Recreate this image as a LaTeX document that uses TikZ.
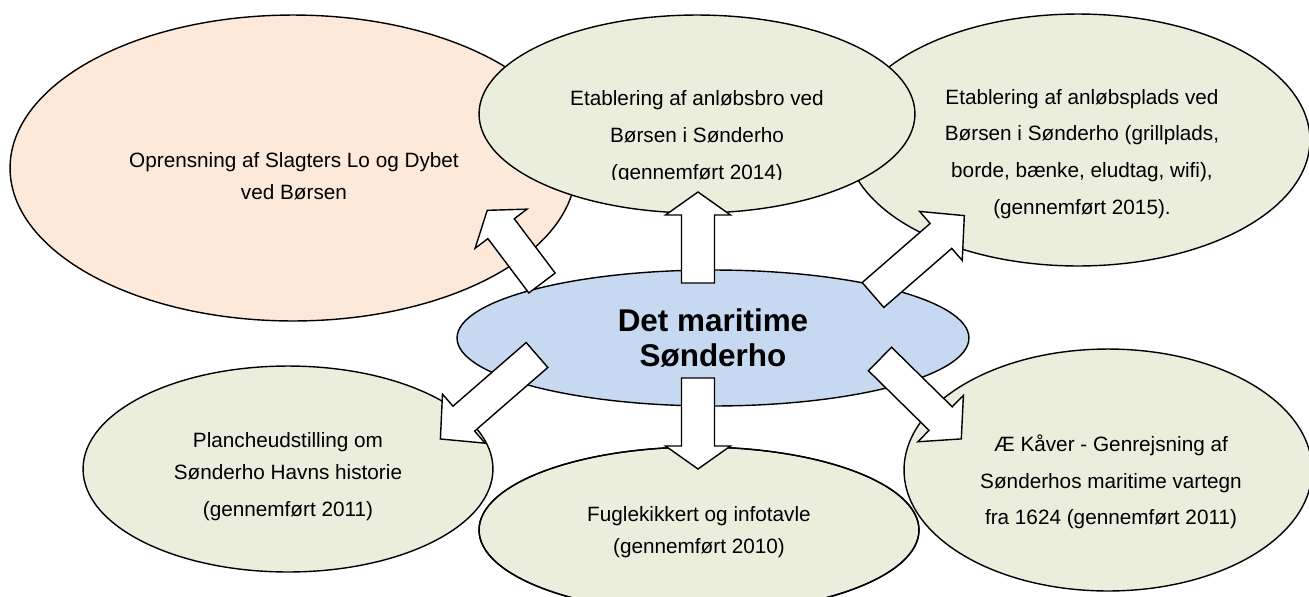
\documentclass[tikz,border=0pt]{standalone}
\usepackage{fontspec}
\setmainfont{Liberation Sans}
\usetikzlibrary{shapes.geometric}

\definecolor{peachfill}{HTML}{FDE9D9}
\definecolor{sagefill}{HTML}{EBEEDD}
\definecolor{skyfill}{HTML}{C6D9F1}

\tikzset{
  blob/.style={ellipse,draw,inner sep=0pt,fill=sagefill},
  bodytext/.style={align=center,font=\fontsize{11.8}{21}\selectfont},
  tighttext/.style={align=center,font=\fontsize{11.8}{18}\selectfont},
  blockarr/.style={draw,fill=white},
}

% tail, angle, shaft length, head length
\newcommand{\blockarrow}[4]{%
  \draw[blockarr,shift={(#1)},rotate=#2]
    (0,-16.5) -- (#3,-16.5) -- (#3,-32.5) -- ({#3+#4},0)
    -- (#3,32.5) -- (#3,16.5) -- (0,16.5) -- cycle;
}

\begin{document}
\begin{tikzpicture}[x=0.02cm,y=-0.02cm,thick]

\useasboundingbox (0,0) rectangle (1309,596);

\node[blob,fill=peachfill,minimum width=11.32cm,minimum height=6.12cm] (oprens) at (293,168) {};
\node[blob,minimum width=9.28cm,minimum height=5.04cm] (anlplads) at (1078,140) {};
\node[blob,minimum width=8.72cm,minimum height=3.96cm] (anlbro) at (697,114) {};
\node[blob,fill=skyfill,minimum width=10.24cm,minimum height=2.72cm,
      align=center,font=\bfseries\fontsize{17.9}{19.9}\selectfont] (centre) at (713,338) {Det maritime\\Sønderho};
\node[blob,minimum width=8.2cm,minimum height=4.12cm] (planche) at (288,469) {};
\node[blob,minimum width=8.8cm,minimum height=3.32cm] (fugl) at (699,530) {};
\node[blob,minimum width=8.16cm,minimum height=4.84cm] (kaaver) at (1108,470) {};
\draw (fugl.center) ellipse [x radius=220,y radius=83];

\node[tighttext] (oprenstxt) at (294,176) {Oprensning af Slagters Lo og Dybet\\ved Børsen};
\begin{scope}
  \clip (480,0) rectangle (915,179);
  \node[bodytext] (anlbrotxt) at (697,137) {Etablering af anløbsbro ved\\Børsen i Sønderho\\(gennemført 2014)};
\end{scope}
\node[bodytext] (anlpladstxt) at (1082,154) {Etablering af anløbsplads ved\\Børsen i Sønderho (grillplads,\\borde, bænke, eludtag, wifi),\\(gennemført 2015).};
\node[tighttext] (planchetxt) at (288,477) {Plancheudstilling om\\Sønderho Havns historie\\[3.4pt](gennemført 2011)};
\node[tighttext] (fugltxt) at (699,532) {Fuglekikkert og infotavle\\(gennemført 2010)};
\node[bodytext,font=\fontsize{11.8}{20.8}\selectfont] (kaavertxt) at (1111,482) {Æ Kåver - Genrejsning af\\Sønderhos maritime vartegn\\fra 1624 (gennemført 2011)};

\coordinate (tailNW) at (542,283);
\coordinate (tailN) at (698,283);
\coordinate (tailNE) at (873,295);
\coordinate (tailSW) at (537,355);
\coordinate (tailS) at (698,378);
\coordinate (tailSE) at (880,359);

\blockarrow{tailNW}{127}{68}{23}
\blockarrow{tailN}{90}{68}{23}
\blockarrow{tailNE}{41}{90}{31}
\blockarrow{tailSW}{-139}{97}{31}
\blockarrow{tailS}{-90}{68}{23}
\blockarrow{tailSE}{-44.5}{85}{29}

\end{tikzpicture}
\end{document}
